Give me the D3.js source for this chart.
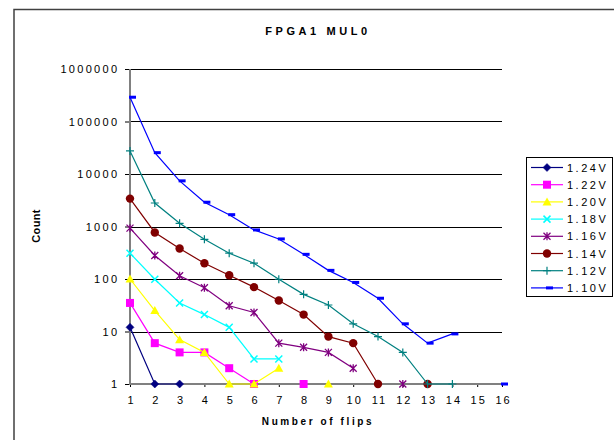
<!DOCTYPE html>
<html>
<head>
<meta charset="utf-8">
<script src="https://cdn.jsdelivr.net/npm/d3@7/dist/d3.min.js"></script>
<style>
  html, body { margin: 0; padding: 0; background: #fff; }
  svg text { font-family: "Liberation Sans", Arial, sans-serif; fill: #000; }
</style>
</head>
<body>
<svg id="chart" width="614" height="440"></svg>
<script>
// ---- data ----
const flips = [1, 2, 3, 4, 5, 6, 7, 8, 9, 10, 11, 12, 13, 14, 15, 16];
const yTicks = [1, 10, 100, 1000, 10000, 100000, 1000000];
const seriesNames = ["1.24V", "1.22V", "1.20V", "1.18V", "1.16V", "1.14V", "1.12V", "1.10V"];
const v124 = [12, 1, 1];
const v122 = [35, 6, 4, 4, 2, 1, null, 1];
const v120 = [100, 25, 7, 4, 1, 1, 2, null, 1];
const v118 = [310, 99, 35, 21, 12, 3, 3];
const v116 = [930, 280, 115, 68, 31, 23, 6, 5, 4, 2, null, 1];
const v114 = [3400, 770, 380, 200, 118, 70, 39, 21, 8, 6, 1, null, 1];
const v112 = [27500, 2800, 1150, 570, 310, 200, 99, 51, 32, 14, 8, 4, 1, 1];
const v110 = [290000, 25500, 7400, 2900, 1680, 860, 580, 295, 146, 86, 43, 14, 6, 9, null, 1];
const seriesValues = [v124, v122, v120, v118, v116, v114, v112, v110];
const colors = ["#000080", "#FF00FF", "#FFFF00", "#00FFFF", "#800080", "#800000", "#008080", "#0000FF"];
const markers = ["diamond", "square", "triangle", "x", "star", "circle", "plus", "dash"];

// ---- layout ----
const svg = d3.select("#chart");
const pLeft = 130, pRight = 502, pTop = 69, pBottom = 384;

const x = d3.scaleLinear().domain([1, 16]).range([pLeft, pRight]);
const y = d3.scaleLog().domain([1, 1000000]).range([pBottom, pTop]);

// chart border (only left/top visible)
svg.append("rect").attr("x", 14).attr("y", 9.5).attr("width", 700).attr("height", 500)
  .attr("fill", "none").attr("stroke", "#404040").attr("stroke-width", 1.5);

// gridlines
svg.append("g").selectAll("line").data(yTicks.filter(d => d > 1)).join("line")
  .attr("x1", pLeft).attr("x2", pRight)
  .attr("y1", d => Math.round(y(d)) + 0.5).attr("y2", d => Math.round(y(d)) + 0.5)
  .attr("stroke", "#000").attr("stroke-width", 1);

// y axis
const yAxis = d3.axisLeft(y).tickValues(yTicks).tickFormat(d3.format("d")).tickSize(5).tickPadding(8);
const gy = svg.append("g").attr("transform", `translate(${pLeft},0)`).call(yAxis);
gy.select(".domain").remove();
gy.selectAll(".tick line").attr("stroke", "#000");
gy.selectAll(".tick text").attr("font-size", 11).attr("letter-spacing", "2.3px")
  .attr("font-family", "Liberation Sans, Arial, sans-serif").attr("dx", "2.3px");

// x axis
const xAxis = d3.axisBottom(x).tickValues(flips).tickFormat(d3.format("d")).tickSize(3).tickPadding(9);
const gx = svg.append("g").attr("transform", `translate(0,${pBottom})`).call(xAxis);
gx.select(".domain").remove();
gx.selectAll(".tick line").attr("stroke", "#000");
gx.selectAll(".tick text").attr("font-size", 11).attr("letter-spacing", "2px")
  .attr("font-family", "Liberation Sans, Arial, sans-serif").attr("dx", "1px");

// axis lines (gray)
svg.append("line").attr("x1", pLeft).attr("x2", pLeft).attr("y1", pTop).attr("y2", pBottom + 1)
  .attr("stroke", "#808080").attr("stroke-width", 2);
svg.append("line").attr("x1", pLeft).attr("x2", pRight + 2).attr("y1", pBottom).attr("y2", pBottom)
  .attr("stroke", "#808080").attr("stroke-width", 2);

// marker drawing
function drawMarker(g, type, color, cx, cy) {
  const s = g.append("g").attr("transform", `translate(${cx},${cy})`);
  switch (type) {
    case "diamond":
      s.append("path").attr("d", "M0,-4L4,0L0,4L-4,0Z").attr("fill", color).attr("stroke", color).attr("stroke-width", 0.5); break;
    case "square":
      s.append("rect").attr("x", -4).attr("y", -4).attr("width", 8).attr("height", 8).attr("fill", color); break;
    case "triangle":
      s.append("path").attr("d", "M0,-4.5L4.5,3.5L-4.5,3.5Z").attr("fill", color); break;
    case "x":
      s.append("path").attr("d", "M-3.5,-3.5L3.5,3.5M-3.5,3.5L3.5,-3.5").attr("stroke", color).attr("stroke-width", 1.5).attr("fill", "none"); break;
    case "star":
      s.append("path").attr("d", "M-3.5,-3.5L3.5,3.5M-3.5,3.5L3.5,-3.5M0,-4L0,4").attr("stroke", color).attr("stroke-width", 1.3).attr("fill", "none"); break;
    case "circle":
      s.append("circle").attr("r", 4.2).attr("fill", color); break;
    case "plus":
      s.append("path").attr("d", "M-4,0L4,0M0,-4L0,4").attr("stroke", color).attr("stroke-width", 1.2).attr("fill", "none"); break;
    case "dash":
      s.append("rect").attr("x", -1).attr("y", -1.5).attr("width", 7).attr("height", 3).attr("fill", color); break;
  }
}

// series
const plot = svg.append("g");
seriesValues.forEach((vals, i) => {
  const pts = vals.map((v, j) => ({ x: flips[j], v }));
  const line = d3.line().defined(d => d.v != null).x(d => x(d.x)).y(d => y(d.v));
  plot.append("path").datum(pts).attr("d", line)
    .attr("fill", "none").attr("stroke", colors[i]).attr("stroke-width", 1.2);
  pts.filter(d => d.v != null).forEach(d => drawMarker(plot, markers[i], colors[i], x(d.x), y(d.v)));
});

// legend
const lg = svg.append("g");
lg.append("rect").attr("x", 526.5).attr("y", 157.5).attr("width", 86).attr("height", 139)
  .attr("fill", "#fff").attr("stroke", "#000").attr("stroke-width", 1);
seriesNames.forEach((name, i) => {
  const ly = 167.5 + i * 17.2;
  lg.append("line").attr("x1", 531).attr("x2", 563).attr("y1", ly).attr("y2", ly)
    .attr("stroke", colors[i]).attr("stroke-width", 1.2);
  drawMarker(lg, markers[i], colors[i], 547, ly);
  lg.append("text").attr("x", 567).attr("y", ly + 4).attr("font-size", 11)
    .attr("letter-spacing", "2.5px").text(name);
});

// title & axis titles
svg.append("text").attr("x", 318).attr("y", 35).attr("text-anchor", "middle")
  .attr("font-size", 11).attr("font-weight", "bold").attr("letter-spacing", "3.6px").text("FPGA1 MUL0");
svg.append("text").attr("x", 318).attr("y", 425).attr("text-anchor", "middle")
  .attr("font-size", 10).attr("font-weight", "bold").attr("letter-spacing", "2.6px").text("Number of flips");
svg.append("text").attr("transform", "translate(40,226) rotate(-90)").attr("text-anchor", "middle")
  .attr("font-size", 11).attr("font-weight", "bold").attr("letter-spacing", "0.3px").text("Count");
</script>
</body>
</html>
